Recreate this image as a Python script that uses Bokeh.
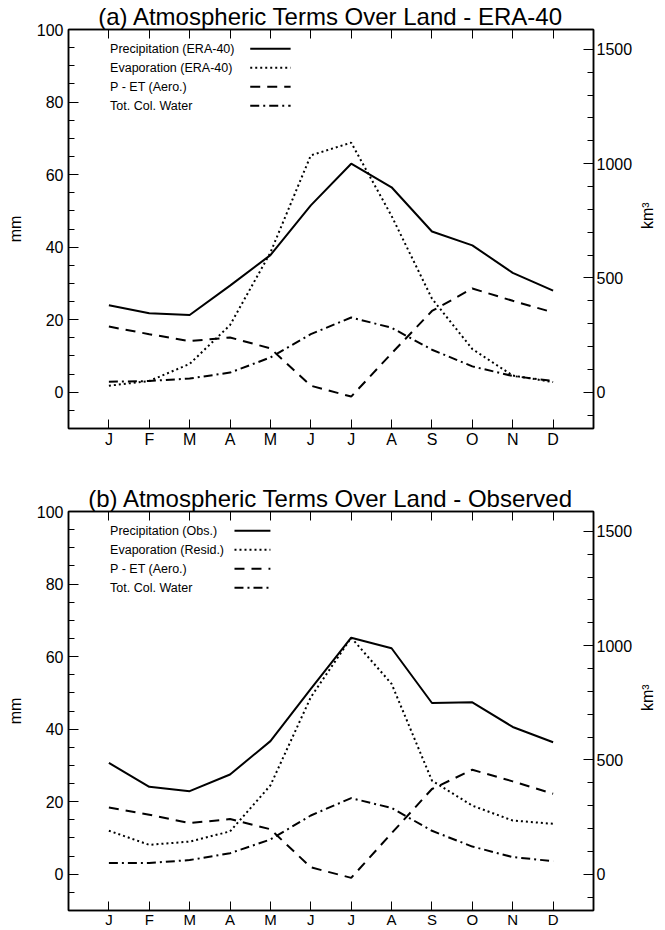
import math
from bokeh.plotting import figure
from bokeh.models import Range1d, LinearAxis, FixedTicker, Title, CustomLabelingPolicy
from bokeh.layouts import column
from bokeh.embed import file_html
from bokeh.resources import INLINE
from bokeh.core.properties import value

months = list(range(1, 13))
month_labels = ["J", "F", "M", "A", "M", "J", "J", "A", "S", "O", "N", "D"]

# Panel (a) ERA-40
a_precip = [24.0, 21.8, 21.3, 29.4, 37.8, 51.5, 63.0, 56.5, 44.3, 40.5, 32.9, 28.0]
a_evap = [1.8, 3.1, 7.8, 18.5, 38.5, 65.3, 68.8, 48.6, 25.8, 11.9, 4.6, 2.8]
a_pet = [18.1, 16.0, 14.1, 15.1, 12.1, 1.8, -1.2, 10.7, 22.4, 28.6, 25.2, 22.0]
a_tcw = [46, 49, 60, 86, 152, 254, 327, 282, 186, 113, 71, 49]  # km^3

# Panel (b) Observed
b_precip = [30.7, 24.1, 22.9, 27.5, 36.7, 51.1, 65.2, 62.3, 47.2, 47.4, 40.6, 36.4]
b_evap = [12.0, 8.1, 9.0, 11.8, 24.5, 48.8, 65.2, 52.5, 25.8, 18.9, 14.8, 13.9]
b_pet = [18.4, 16.4, 14.1, 15.2, 12.4, 1.9, -1.0, 11.3, 23.5, 28.8, 25.6, 22.2]
b_tcw = [49, 49, 62, 92, 152, 257, 333, 290, 190, 121, 75, 57]  # km^3

a_labels = ["Precipitation (ERA-40)", "Evaporation (ERA-40)", "P - ET (Aero.)", "Tot. Col. Water"]
b_labels = ["Precipitation (Obs.)", "Evaporation (Resid.)", "P - ET (Aero.)", "Tot. Col. Water"]

FONT = "Liberation Sans"
DASHES = ["solid", "2 3", "10 7", "9 4 2 4"]
KM3_PER_MM = 15.87


def make_panel(title, precip, evap, pet, tcw, labels, leg_x0, leg_x1, top_border, bottom_border,
               xstand, xsize):
    ymin, ymax = -10, 100
    p = figure(frame_width=525, frame_height=399,
               x_range=Range1d(0, 13), y_range=Range1d(ymin, ymax),
               output_backend="svg", toolbar_location=None,
               min_border_left=68, min_border_right=64,
               min_border_top=top_border, min_border_bottom=bottom_border)
    p.title = Title(text=title, text_font=FONT, text_font_size="24px", text_color="black",
                    text_font_style="normal", align="center", offset=0, standoff=0)
    p.grid.visible = False
    p.outline_line_color = "black"
    p.outline_line_width = 1.5
    p.background_fill_color = "white"
    p.border_fill_color = "white"

    p.extra_y_ranges = {"km3": Range1d(ymin * KM3_PER_MM, ymax * KM3_PER_MM)}

    xa = p.xaxis[0]
    xa.ticker = FixedTicker(ticks=months)
    xa.major_label_overrides = {m: l for m, l in zip(months, month_labels)}
    ya = p.yaxis[0]
    ya.ticker = FixedTicker(ticks=[0, 20, 40, 60, 80, 100], minor_ticks=list(range(-10, 101, 5)))
    ya.axis_label = "mm"
    ta = LinearAxis(ticker=FixedTicker(ticks=months), major_label_text_font_size="0px",
                    major_label_policy=CustomLabelingPolicy(
                        code="for (const i of indices) indices.unset(i); return indices"))
    p.add_layout(ta, "above")
    ra = LinearAxis(y_range_name="km3", axis_label="km³",
                    ticker=FixedTicker(ticks=[0, 500, 1000, 1500], minor_ticks=list(range(-100, 1601, 100))))
    p.add_layout(ra, "right")

    for ax in [xa, ya, ta, ra]:
        ax.axis_line_color = "black"
        ax.axis_line_width = 1.5
        ax.major_tick_line_color = "black"
        ax.minor_tick_line_color = "black"
        ax.major_tick_line_width = 1
        ax.minor_tick_line_width = 1
        ax.major_tick_in = 10
        ax.major_tick_out = 0
        ax.minor_tick_in = 6
        ax.minor_tick_out = 0
        ax.major_label_text_font = FONT
        ax.major_label_text_color = "black"
        ax.axis_label_text_font = FONT
        ax.axis_label_text_font_style = "normal"
        ax.axis_label_text_font_size = "16px"
        ax.axis_label_text_color = "black"
    for ax in [ya, ra]:
        ax.major_label_text_font_size = "16px"
    xa.major_label_text_font_size = xsize
    xa.minor_tick_line_color = None
    ta.minor_tick_line_color = None
    ta.major_tick_in = 9
    xa.major_tick_in = 9
    xa.major_label_standoff = xstand
    ya.major_label_standoff = 5
    ya.axis_label_standoff = 10
    ra.major_label_standoff = 3
    ra.axis_label_standoff = 12
    try:
        ra.axis_label_orientation = math.pi / 2
    except Exception:
        pass

    p.line(months, precip, line_color="black", line_width=2)
    p.line(months, evap, line_color="black", line_width=2, line_dash=DASHES[1])
    p.line(months, pet, line_color="black", line_width=2, line_dash=DASHES[2])
    p.line(months, tcw, line_color="black", line_width=2, line_dash=DASHES[3], y_range_name="km3")

    step = (ymax - ymin) * 0.0478
    top = ymax - (ymax - ymin) * 0.048
    for i, (lab, dash) in enumerate(zip(labels, DASHES)):
        yy = top - i * step
        p.text(x=[1.03], y=[yy], text=[lab], text_font=value(FONT), text_font_size="12.5px",
               text_baseline="middle", text_align="left", text_color="black")
        p.line([leg_x0, leg_x1], [yy, yy], line_color="black", line_width=2, line_dash=dash)
    return p


p1 = make_panel("(a) Atmospheric Terms Over Land - ERA-40", a_precip, a_evap, a_pet, a_tcw,
                a_labels, 4.5, 5.5, 23, 54, 2, "16px")
p2 = make_panel("(b) Atmospheric Terms Over Land - Observed", b_precip, b_evap, b_pet, b_tcw,
                b_labels, 4.11, 5.0, 23, 17, 0, "15px")

layout = column(p1, p2, spacing=0)
open("out.html", "w").write(file_html(layout, INLINE))
